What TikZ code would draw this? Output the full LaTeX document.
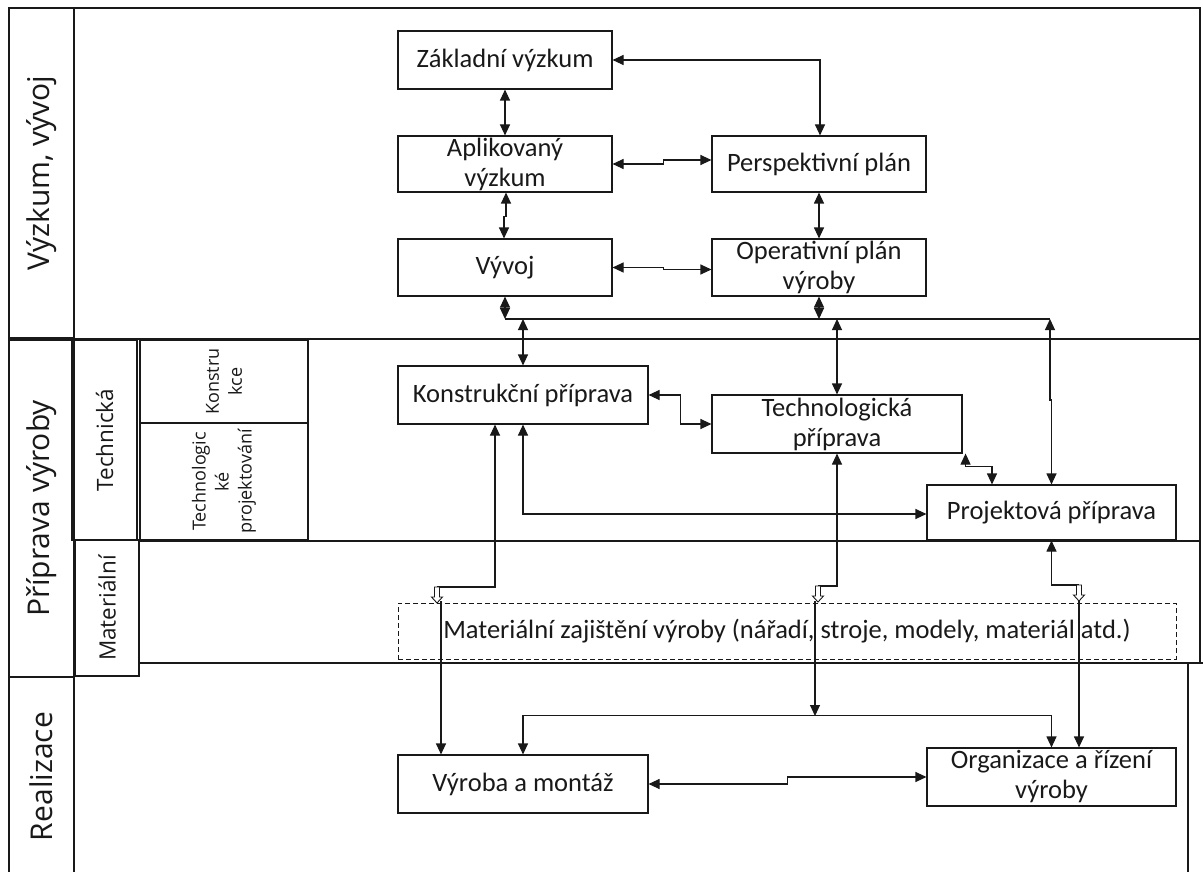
\documentclass[tikz,border=0pt]{standalone}
\usepackage{fontspec}
\setmainfont{Carlito}
\newfontfamily\sidefont{Open Sans}
\usetikzlibrary{arrows.meta}

\newcommand{\boxfont}{\fontsize{26.5}{30}\selectfont}
\newcommand{\bigside}{\sidefont\fontsize{30}{36}\selectfont}
\newcommand{\midside}{\sidefont\fontsize{22.5}{27}\selectfont}
\newcommand{\smallside}{\sidefont\fontsize{18}{23}\selectfont}

\begin{document}
\begin{tikzpicture}[x=1pt,y=-1pt,
  color=black!90, line width=1.1pt,
  >={Triangle[length=11pt,width=10pt]},
  box/.style={draw, rectangle, inner sep=0pt, align=center, font=\boxfont},
  cell/.style={draw, rectangle, inner sep=0pt, align=center, rotate=90},
  openarrow/.pic={\draw[fill=white, line width=0.9pt]
     (-2.5,0) -- (-2.5,10) -- (-5.5,10) -- (0,16) -- (5.5,10) -- (2.5,10) -- (2.5,0) -- cycle;}
]
\useasboundingbox (0,0) rectangle (1203,872);

% frame and section lines
\draw (9,8) -- (1200,8) -- (1200,663);
\draw (1188,663) -- (1188,872);
\draw (74,339) -- (1200,339);
\draw (139,663) -- (1203,663);

% left column: sections and sub-sections
\node[cell, minimum width=330pt, minimum height=65pt, font=\bigside] (sVyzkum) at (41.5,173) {Výzkum, vývoj};
\node[cell, minimum width=337pt, minimum height=65pt, font=\bigside] (sPriprava) at (41.5,508.5) {Příprava výroby};
\draw (9,677) -- (9,872) (74,677) -- (74,872);
\node[inner sep=0pt, rotate=90, font=\bigside] (sRealizace) at (41.5,776.5) {Realizace};
\node[cell, minimum width=200pt, minimum height=65pt, font=\midside] (sTech) at (104.5,440) {Technická};
\node[cell, minimum width=136pt, minimum height=64pt, font=\midside] (sMat) at (107,608) {Materiální};
\node[cell, minimum width=83pt, minimum height=168pt, font=\smallside] (sKon) at (224,381.5) {Konstru\\kce};
\node[cell, minimum width=117pt, minimum height=168pt, font=\smallside] (sTpr) at (224,481.5) {Technologic\\ké\\projektování};

% process boxes
\node[box, minimum width=214pt, minimum height=58pt] (zak) at (505,60) {Základní výzkum};
\node[box, minimum width=214pt, minimum height=56pt] (apl) at (505,164) {Aplikovaný\\výzkum};
\node[box, minimum width=214pt, minimum height=57pt] (vyv) at (505,267.5) {Vývoj};
\node[box, minimum width=214pt, minimum height=56pt] (per) at (819,164) {Perspektivní plán};
\node[box, minimum width=214pt, minimum height=57pt] (ope) at (819,267.5) {Operativní plán\\výroby};
\node[box, minimum width=250pt, minimum height=58pt] (kon) at (523,395) {Konstrukční příprava};
\node[box, minimum width=250pt, minimum height=58pt] (tec) at (837,424) {Technologická\\příprava};
\node[box, minimum width=249pt, minimum height=55pt] (pro) at (1051.5,512.5) {Projektová příprava};
\node[box, dash pattern=on 5pt off 3pt, line width=0.8pt, minimum width=778pt, minimum height=56pt] (mat) at (787,631)
  {Materiální zajištění výroby (nářadí, stroje, modely, materiál atd.)};
\node[box, minimum width=250pt, minimum height=58pt] (vyr) at (523,784) {Výroba a montáž};
\node[box, minimum width=249pt, minimum height=58pt] (org) at (1051.5,777) {Organizace a řízení\\výroby};

\draw[line width=2pt] (140,541) -- (1200,541);

% research and development links
\draw[<->] (zak.east) -| ([xshift=1pt]per.north);
\draw[<->] (zak) -- (apl);
\draw[<->] (apl.east) -- ++(51,0) |- ([yshift=4pt]per.west);
\draw[<->] ([xshift=1pt]apl.south) -- ++(0,24) -| ([xshift=-1pt]vyv.north);
\draw[<->] (per) -- (ope);
\draw[<->] (vyv.east) -- ++(51,0) |- ([yshift=-2pt]ope.west);

% common bus below development
\coordinate (busL) at (505,319);
\coordinate (busR) at (1050,319);
\draw (busL) -- (busR);
\draw[<->] (vyv.south) -- (busL);
\draw[<->] (ope.south) -- (ope.south |- busL);
\draw[<->] (busL -| kon.north) -- (kon.north);
\draw[<->] (busL -| tec.north) -- (tec.north);
\draw[<->] (busR) -- ++(0,81) -| (pro.north);

% technical preparation links
\draw[<->] (kon.east) -- ++(32,0) |- (tec.west);
\draw[<->] ([xshift=3pt]tec.south east) -- ++(0,13) -| ([xshift=-59.5pt]pro.north);
\draw[<->] (kon.south) |- ([yshift=-1.5pt]pro.west);

% links into material provision
\coordinate (h1) at (437,587);
\coordinate (h2) at (818,586);
\coordinate (h3) at (1079,585);
\draw[<-] ([xshift=-28pt]kon.south) |- (h1);
\draw[<-] (tec.south) |- (h2);
\draw[<-] (pro.south) |- (h3);
\pic at (h1) {openarrow};
\pic at (h2) {openarrow};
\pic at (h3) {openarrow};

% links into realisation
\coordinate (m1) at (441,601);
\coordinate (m2) at (815,601);
\coordinate (m3) at (1079,601);
\coordinate (bus2) at (815,716);
\draw[->] (m1) -- (m1 |- vyr.north);
\draw[->] (m2) -- (bus2);
\draw[->] (m3) -- (m3 |- org.north);
\draw[<->] (vyr.north) -- ++(0,-39) -| (org.north);
\draw[<->] (vyr.east) -- ++(139,0) |- (org.west);
\end{tikzpicture}
\end{document}
